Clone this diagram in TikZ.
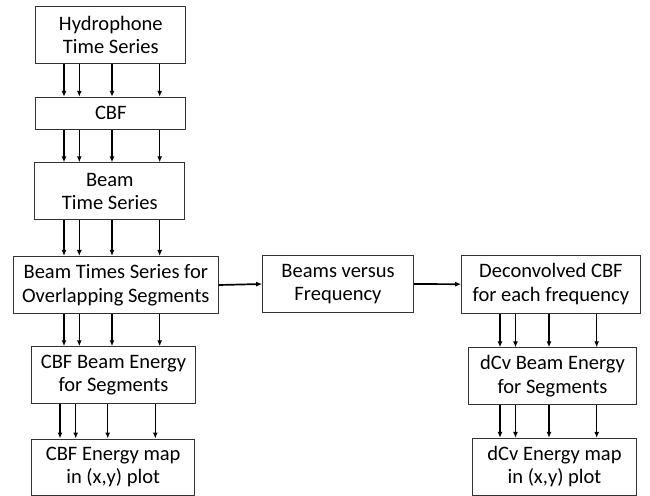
\documentclass[tikz,border=0pt]{standalone}
\usepackage{fontspec}
\setmainfont{Carlito}
\usetikzlibrary{arrows.meta}
\begin{document}
\begin{tikzpicture}[x=1bp,y=-1bp,
  box/.style={draw=black!80, line width=1bp, rectangle, inner sep=0pt, align=center,
    font=\fontsize{20.6}{23.5}\selectfont, text=black},
  arr/.style={draw=black, line width=1.3bp, -{Latex[length=6bp,width=5bp]}}]
\useasboundingbox (0,0) rectangle (650,496);
\node[box, minimum width=150bp, minimum height=56.5bp] (hyd) at (110.8,35) {Hydrophone\\Time Series};
\node[box, minimum width=150bp, minimum height=32bp] (cbf) at (110.8,113.3) {CBF};
\node[box, minimum width=150bp, minimum height=57bp] (bts) at (109.8,191.3) {Beam\\Time Series};
\node[box, minimum width=205bp, minimum height=57bp] (ovl) at (115.8,285) {Beam Times Series for\\Overlapping Segments};
\node[box, minimum width=163.5bp, minimum height=56.5bp] (cbe) at (113.5,375) {CBF Beam Energy\\for Segments};
\node[box, minimum width=163bp, minimum height=56bp] (cem) at (113.2,467) {CBF Energy map\\in (x,y) plot};
\node[box, minimum width=150.6bp, minimum height=57.5bp] (bvf) at (338,284) {Beams versus\\Frequency};
\node[box, minimum width=178.5bp, minimum height=58bp] (dec) at (550.9,284.2) {Deconvolved CBF\\for each frequency};
\node[box, minimum width=167.5bp, minimum height=57bp] (dbe) at (552.5,376.3) {dCv Beam Energy\\for Segments};
\node[box, minimum width=164.4bp, minimum height=56.7bp] (dem) at (554.5,466.7) {dCv Energy map\\in (x,y) plot};
\foreach \a/\b in {hyd/cbf, cbf/bts, bts/ovl, ovl/cbe}{
  \foreach \x in {64,79.3,112,159.7}{
    \draw[arr] (\a.south -| \x,0) -- (\b.north -| \x,0);
  }
}
\foreach \x in {60,75.7,107.7,155.3}{
  \draw[arr] (cbe.south -| \x,0) -- (cem.north -| \x,0);
}
\foreach \a/\b in {dec/dbe, dbe/dem}{
  \foreach \x in {500,515.5,549,596.7}{
    \draw[arr] (\a.south -| \x,0) -- (\b.north -| \x,0);
  }
}
\draw[arr, line width=1.7bp] (ovl.east) -- (bvf.west);
\draw[arr, line width=1.7bp] (bvf.east) -- (dec.west);
\end{tikzpicture}
\end{document}
